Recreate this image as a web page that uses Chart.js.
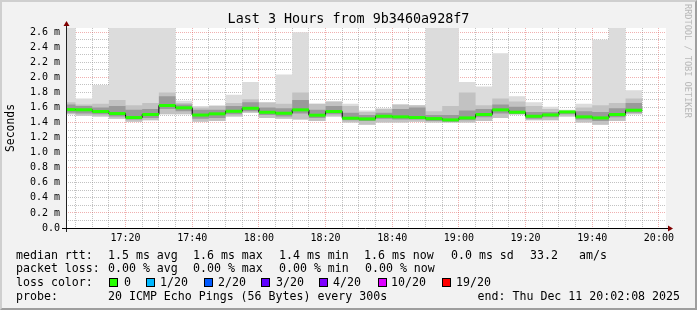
<!DOCTYPE html>
<html>
<head>
<meta charset="utf-8">
<script src="https://cdn.jsdelivr.net/npm/chart.js@4.4.1/dist/chart.umd.min.js"></script>
<style>
    html, body { margin: 0; padding: 0; }
    body { width: 697px; height: 310px; position: relative; overflow: hidden; background: #f2f2f2; font-family: 'DejaVu Sans Mono', monospace; }
    #chart { position: absolute; left: 0; top: 0; }
    #frame { position: absolute; left: 0; top: 0; width: 697px; height: 310px; box-sizing: border-box;
             border-top: 2px solid #cfcfcf; border-left: 2px solid #cfcfcf;
             border-right: 2px solid #9e9e9e; border-bottom: 2px solid #9e9e9e; }
    .t { position: absolute; font-size: 11.6px; line-height: 14px; white-space: pre; color: #000; }
    .sw { position: absolute; width: 7px; height: 7px; border: 1px solid #000; }
    #wm { position: absolute; left: 683px; top: 4px; writing-mode: vertical-rl; font-size: 8.6px; color: #b8b8b8; white-space: pre; }
</style>
</head>
<body>
<canvas id="chart" width="697" height="310"></canvas>
<div id="frame"></div>
<div id="wm">RRDTOOL / TOBI OETIKER</div>
<div id="legend"></div>
<script>
// 5 minute intervals (start times), last 3 hours ending 20:02:08
const intervalStarts = ['17:00', '17:05', '17:10', '17:15', '17:20', '17:25', '17:30', '17:35', '17:40', '17:45',
    '17:50', '17:55', '18:00', '18:05', '18:10', '18:15', '18:20', '18:25', '18:30', '18:35',
    '18:40', '18:45', '18:50', '18:55', '19:00', '19:05', '19:10', '19:15', '19:20', '19:25',
    '19:30', '19:35', '19:40', '19:45', '19:50'];
const intervalEnd = '19:55';
const rangeStart = '17:02:08';
const rangeEnd = '20:02:08';

// RTT in milliseconds
const medianRtt = [1.573, 1.570, 1.547, 1.520, 1.467, 1.507, 1.627, 1.596, 1.500, 1.516,
    1.550, 1.590, 1.537, 1.524, 1.569, 1.498, 1.547, 1.458, 1.449, 1.484,
    1.476, 1.467, 1.453, 1.436, 1.462, 1.507, 1.569, 1.538, 1.484, 1.502,
    1.542, 1.476, 1.462, 1.507, 1.564];
const maxRtt = [2.70, 1.72, 1.90, 2.70, 2.70, 2.70, 2.70, 1.69, 1.62, 1.63,
    1.77, 1.94, 1.66, 2.04, 2.60, 1.65, 1.68, 1.65, 1.56, 1.59,
    1.64, 1.63, 2.70, 2.70, 1.94, 1.88, 2.32, 1.75, 1.67, 1.61,
    1.57, 1.65, 2.50, 2.70, 1.83];
const upperRtt = [1.67, 1.64, 1.65, 1.70, 1.63, 1.66, 1.80, 1.66, 1.60, 1.62,
    1.66, 1.71, 1.67, 1.65, 1.80, 1.65, 1.68, 1.62, 1.54, 1.58,
    1.64, 1.63, 1.55, 1.62, 1.80, 1.63, 1.72, 1.68, 1.62, 1.58,
    1.55, 1.60, 1.63, 1.66, 1.72];
const coreHigh = [1.64, 1.62, 1.60, 1.62, 1.57, 1.58, 1.75, 1.64, 1.57, 1.57,
    1.62, 1.67, 1.60, 1.59, 1.70, 1.57, 1.62, 1.53, 1.50, 1.53,
    1.58, 1.60, 1.50, 1.50, 1.56, 1.58, 1.64, 1.61, 1.54, 1.54,
    1.55, 1.55, 1.54, 1.59, 1.66];
const coreLow = [1.53, 1.52, 1.51, 1.48, 1.44, 1.46, 1.58, 1.55, 1.45, 1.46,
    1.51, 1.55, 1.50, 1.48, 1.52, 1.46, 1.51, 1.43, 1.42, 1.45,
    1.44, 1.44, 1.42, 1.41, 1.43, 1.47, 1.52, 1.51, 1.45, 1.47,
    1.51, 1.44, 1.42, 1.47, 1.53];
const minRtt = [1.51, 1.49, 1.48, 1.45, 1.41, 1.43, 1.51, 1.51, 1.41, 1.42,
    1.48, 1.53, 1.46, 1.45, 1.44, 1.42, 1.48, 1.40, 1.37, 1.40,
    1.40, 1.41, 1.40, 1.40, 1.40, 1.42, 1.46, 1.51, 1.43, 1.43,
    1.48, 1.40, 1.37, 1.42, 1.51];

const yTickValues = [0.0, 0.1, 0.2, 0.3, 0.4, 0.5, 0.6, 0.7, 0.8, 0.9, 1.0, 1.1, 1.2, 1.3,
    1.4, 1.5, 1.6, 1.7, 1.8, 1.9, 2.0, 2.1, 2.2, 2.3, 2.4, 2.5, 2.6];
const yMax = 2.656;
const xLabels = ['17:20', '17:40', '18:00', '18:20', '18:40', '19:00', '19:20', '19:40', '20:00'];

const lossLabels = ['0', '1/20', '2/20', '3/20', '4/20', '10/20', '19/20'];
const lossColors = ['#26ff00', '#00b8ff', '#0059ff', '#5e00ff', '#7e00ff', '#dd00ff', '#ff0000'];

const FONT = "'DejaVu Sans Mono', monospace";
const gridGray = 'rgba(143, 143, 143, 0.55)';
const gridRed = 'rgba(222, 79, 79, 0.45)';

// minutes after 17:00
function toMin(str) {
    const p = str.split(':').map(Number);
    return (p[0] - 17) * 60 + p[1] + (p[2] || 0) / 60;
}
function toLabel(m) {
    const h = 17 + Math.floor(m / 60);
    const mm = Math.round(m % 60);
    return h + ':' + String(mm).padStart(2, '0');
}

const starts = intervalStarts.map(toMin);
const endMin = toMin(intervalEnd);

// step series: value holds from interval start to next start
function stepped(values) {
    const pts = values.map((v, i) => ({ x: starts[i], y: v }));
    pts.push({ x: endMin, y: values[values.length - 1] });
    return pts;
}

const minorTicks = [];
for (let m = 5; m <= toMin(rangeEnd); m += 5) minorTicks.push(m);
const labelMinutes = xLabels.map(toMin);

function bound(label, values, extra) {
    return Object.assign({
        label: label,
        data: stepped(values),
        stepped: true,
        borderWidth: 0,
        borderColor: 'transparent',
        pointRadius: 0,
        fill: false,
        clip: 0
    }, extra || {});
}

const rrdFrame = {
    id: 'rrdFrame',
    beforeDraw(chart) {
        const { ctx, chartArea: a } = chart;
        ctx.save();
        ctx.fillStyle = '#ffffff';
        ctx.fillRect(a.left, a.top, a.right - a.left, a.bottom - a.top);
        ctx.restore();
    },
    afterDraw(chart) {
        const { ctx, chartArea: a } = chart;
        ctx.save();
        // axes
        ctx.lineWidth = 1;
        ctx.strokeStyle = '#212121';
        ctx.beginPath();
        ctx.moveTo(a.left + 0.5, a.bottom + 4);
        ctx.lineTo(a.left + 0.5, a.top - 3);
        ctx.stroke();
        ctx.strokeStyle = '#000000';
        ctx.beginPath();
        ctx.moveTo(a.left - 4, a.bottom + 0.5);
        ctx.lineTo(a.right + 3, a.bottom + 0.5);
        ctx.stroke();
        // arrows
        ctx.fillStyle = '#800000';
        ctx.beginPath();
        ctx.moveTo(a.left + 0.5, a.top - 7);
        ctx.lineTo(a.left - 2.5, a.top - 2);
        ctx.lineTo(a.left + 3.5, a.top - 2);
        ctx.closePath();
        ctx.fill();
        ctx.beginPath();
        ctx.moveTo(a.right + 7, a.bottom + 0.5);
        ctx.lineTo(a.right + 2, a.bottom - 2.5);
        ctx.lineTo(a.right + 2, a.bottom + 3.5);
        ctx.closePath();
        ctx.fill();
        ctx.restore();
    }
};

new Chart(document.getElementById('chart'), {
    type: 'line',
    data: {
        datasets: [
            {
                label: 'median',
                data: medianRtt.map((v, i) => ({ x: starts[i] + 2.5, y: v })),
                showLine: false,
                pointStyle: 'line',
                pointRadius: function(context) {
                    const s = context.chart.scales.x;
                    return Math.abs(s.getPixelForValue(5) - s.getPixelForValue(0)) / 2;
                },
                pointBorderWidth: 3,
                pointBorderColor: lossColors[0],
                pointBackgroundColor: lossColors[0],
                pointHoverRadius: 0,
                clip: 0
            },
            {
                label: 'median step',
                data: stepped(medianRtt),
                stepped: true,
                borderWidth: 1,
                borderColor: '#000000',
                pointRadius: 0,
                fill: false,
                clip: 0
            },
            bound('core high', coreHigh, { fill: { target: 3 }, backgroundColor: '#9a9a9a' }),
            bound('core low', coreLow),
            bound('upper', upperRtt, { fill: { target: 6 }, backgroundColor: '#c2c2c2' }),
            bound('max', maxRtt, { fill: { target: 6 }, backgroundColor: '#dcdcdc' }),
            bound('min', minRtt)
        ]
    },
    options: {
        responsive: false,
        devicePixelRatio: 1,
        animation: false,
        events: [],
        layout: { padding: 0 },
        plugins: {
            legend: { display: false },
            tooltip: { enabled: false },
            title: {
                display: true,
                text: 'Last 3 Hours from 9b3460a928f7',
                color: '#000',
                font: { family: FONT, size: 13.4, weight: 'normal', lineHeight: 1 },
                padding: { top: 12.6, bottom: 2 }
            }
        },
        scales: {
            x: {
                type: 'linear',
                min: toMin(rangeStart),
                max: toMin(rangeEnd),
                z: 1,
                afterBuildTicks: s => { s.ticks = minorTicks.map(v => ({ value: v })); },
                afterFit: s => { s.height = 82; },
                ticks: {
                    autoSkip: false,
                    maxRotation: 0,
                    padding: 4,
                    color: '#000',
                    font: { family: FONT, size: 10 },
                    callback: v => labelMinutes.includes(v) ? toLabel(v) : ''
                },
                grid: {
                    drawTicks: false,
                    color: ctx => (ctx.tick && labelMinutes.includes(ctx.tick.value)) ? gridRed : gridGray
                },
                border: { display: false, dash: [1, 1] }
            },
            y: {
                type: 'linear',
                min: 0,
                max: yMax,
                z: 1,
                afterBuildTicks: s => { s.ticks = yTickValues.map(v => ({ value: v })); },
                afterFit: s => { s.width = 66; },
                ticks: {
                    autoSkip: false,
                    padding: 6,
                    color: '#000',
                    font: { family: FONT, size: 10 },
                    callback: v => {
                        const tenth = Math.round(v * 10);
                        if (tenth % 2 !== 0) return '';
                        return tenth === 0 ? '0.0' : v.toFixed(1) + ' m';
                    }
                },
                grid: {
                    drawTicks: false,
                    color: ctx => {
                        if (!ctx.tick) return gridGray;
                        const tenth = Math.round(ctx.tick.value * 10);
                        if (tenth === 0) return 'transparent';
                        return tenth % 6 === 2 ? gridRed : gridGray;
                    }
                },
                border: { display: false, dash: [1, 1] },
                title: {
                    display: true,
                    text: 'Seconds',
                    color: '#000',
                    font: { family: FONT, size: 11.4, lineHeight: 1.2 },
                    padding: { top: 4, bottom: 0 }
                }
            },
            spacer: {
                type: 'linear',
                position: 'right',
                display: true,
                afterFit: s => { s.width = 31; },
                ticks: { display: false },
                grid: { display: false },
                border: { display: false }
            }
        }
    },
    plugins: [rrdFrame]
});

// legend text below the graph
const legend = document.getElementById('legend');
function text(str, x, y, right) {
    const d = document.createElement('div');
    d.className = 't';
    d.textContent = str;
    d.style.top = y + 'px';
    if (right) d.style.right = (697 - x) + 'px'; else d.style.left = x + 'px';
    legend.appendChild(d);
}
const rowY = [248, 261, 275, 289];
text('median rtt:', 16, rowY[0]);
text('1.5 ms avg', 108, rowY[0]);
text('1.6 ms max', 193, rowY[0]);
text('1.4 ms min', 279, rowY[0]);
text('1.6 ms now', 364, rowY[0]);
text('0.0 ms sd', 451, rowY[0]);
text('33.2', 530, rowY[0]);
text('am/s', 579, rowY[0]);
text('packet loss:', 16, rowY[1]);
text('0.00 % avg', 108, rowY[1]);
text('0.00 % max', 193, rowY[1]);
text('0.00 % min', 279, rowY[1]);
text('0.00 % now', 365, rowY[1]);
text('loss color:', 16, rowY[2]);
const swatchX = [109, 146, 204, 261, 319, 378, 442];
const lossTextX = [124, 160, 218, 276, 333, 391, 456];
lossLabels.forEach((l, i) => {
    const s = document.createElement('div');
    s.className = 'sw';
    s.style.left = swatchX[i] + 'px';
    s.style.top = (rowY[2] + 3) + 'px';
    s.style.background = lossColors[i];
    legend.appendChild(s);
    text(l, lossTextX[i], rowY[2]);
});
text('probe:', 16, rowY[3]);
text('20 ICMP Echo Pings (56 Bytes) every 300s', 108, rowY[3]);
text('end: Thu Dec 11 20:02:08 2025', 680, rowY[3], true);
</script>
</body>
</html>
